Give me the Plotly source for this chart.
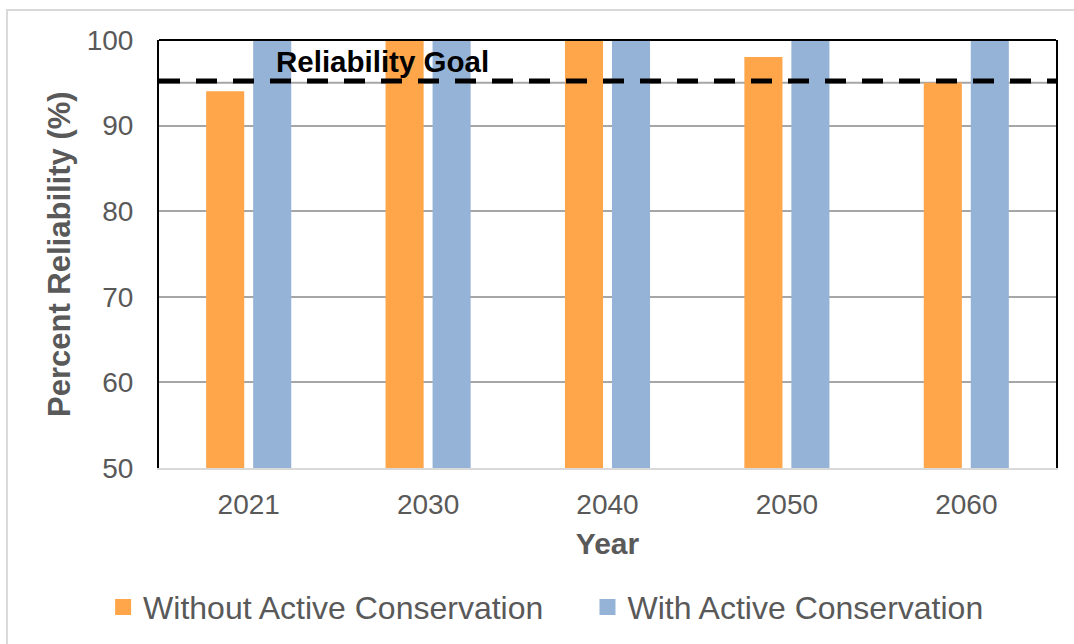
import plotly.graph_objects as go

years = ["2021", "2030", "2040", "2050", "2060"]
without_cons = [94, 100, 100, 98, 95]
with_cons = [100, 100, 100, 100, 100]
goal = 95
goal_label = "Reliability Goal"
series_names = ["Without Active Conservation", "With Active Conservation"]
y_ticks = [50, 60, 70, 80, 90, 100]

ORANGE = "#FFA54A"
BLUE = "#95B3D7"
GRAY_TXT = "#595959"
FONT = "Liberation Sans, Arial, sans-serif"

fig = go.Figure()
fig.add_trace(go.Bar(x=years, y=without_cons, marker=dict(color=ORANGE, line=dict(width=0)),
                     showlegend=False, name=series_names[0]))
fig.add_trace(go.Bar(x=years, y=with_cons, marker=dict(color=BLUE, line=dict(width=0)),
                     showlegend=False, name=series_names[1]))
# legend proxies (bigger square swatches), one legend box each
for name, col, lg in zip(series_names, [ORANGE, BLUE], ["legend", "legend2"]):
    fig.add_trace(go.Scatter(x=[None], y=[None], mode="markers", name=name, legend=lg,
                             marker=dict(symbol="square", size=16, color=col)))

shapes = [
    dict(type="line", xref="paper", yref="y", x0=0, x1=1, y0=goal, y1=goal,
         line=dict(color="#a6a6a6", width=2), layer="below"),
    dict(type="line", xref="paper", yref="y", x0=0, x1=1, y0=goal + 0.22, y1=goal + 0.22,
         line=dict(color="black", width=5, dash="21px,16px"), layer="above"),
    dict(type="line", xref="paper", yref="paper", x0=0, x1=1, y0=1, y1=1,
         line=dict(color="black", width=2), layer="above"),
    dict(type="rect", xref="paper", yref="paper", x0=-0.1695, x1=1.05, y0=-0.5, y1=1.07,
         line=dict(color="#d9d9d9", width=2), fillcolor="rgba(0,0,0,0)", layer="below"),
]

leg_common = dict(orientation="h", xref="container", xanchor="left",
                  y=-0.325, yanchor="middle",
                  font=dict(size=32, color=GRAY_TXT, family=FONT),
                  itemsizing="trace", bgcolor="rgba(0,0,0,0)")

fig.update_layout(
    width=1074, height=644,
    margin=dict(l=159, r=18, t=40, b=176, autoexpand=False),
    paper_bgcolor="white", plot_bgcolor="white",
    barmode="group", bargap=0.476, bargroupgap=0.19,
    font=dict(family=FONT, color=GRAY_TXT),
    shapes=shapes,
    annotations=[
        dict(text=f"<b>{goal_label}</b>", xref="paper", yref="y", x=0.2497, y=97.5,
             showarrow=False, font=dict(size=29.5, color="black", family=FONT),
             xanchor="center", yanchor="middle"),
        dict(text="<b>Percent Reliability (%)</b>", xref="paper", yref="paper", x=-0.1115, y=0.5,
             textangle=-90, showarrow=False, xanchor="center", yanchor="middle",
             font=dict(size=31, color=GRAY_TXT, family=FONT)),
    ],
    legend=dict(x=0.096, **leg_common),
    legend2=dict(x=0.547, **leg_common),
    xaxis=dict(
        type="category", showgrid=False, showline=True, linecolor="#d9d9d9", linewidth=2,
        ticks="outside", ticklen=10, tickcolor="rgba(0,0,0,0)", tickangle=0,
        tickfont=dict(size=28, color=GRAY_TXT),
        title=dict(text="<b>Year</b>", font=dict(size=30, color=GRAY_TXT), standoff=14),
    ),
    yaxis=dict(
        range=[50, 100], tickvals=y_ticks, showgrid=True, gridcolor="#a6a6a6", gridwidth=1.5,
        showline=True, linecolor="black", linewidth=2, mirror=True, zeroline=False,
        ticks="outside", ticklen=18, tickcolor="rgba(0,0,0,0)",
        tickfont=dict(size=28, color=GRAY_TXT),
    ),
)

fig.write_html("out.html")
